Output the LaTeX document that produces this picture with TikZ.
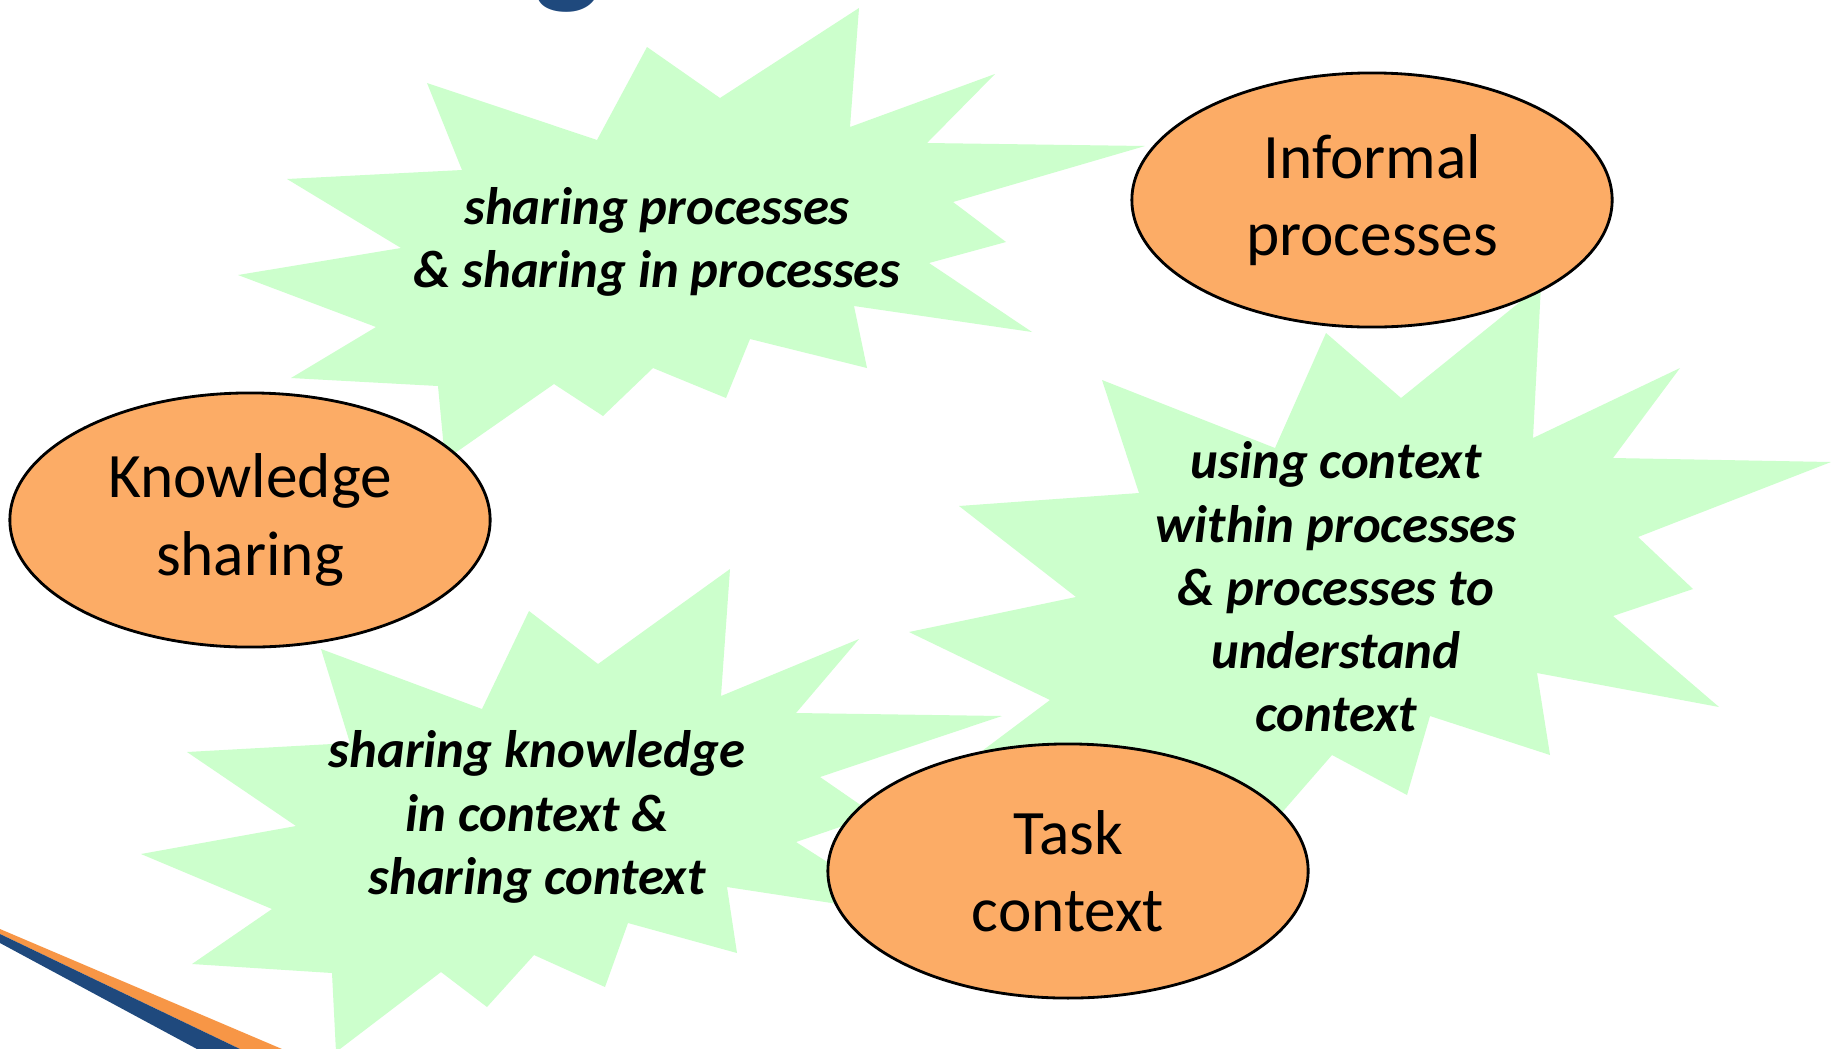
\documentclass[tikz,border=0pt]{standalone}
\usepackage{fontspec}
\setmainfont{Carlito}
\usetikzlibrary{shapes.geometric}
\definecolor{burstgreen}{RGB}{204,255,204}
\definecolor{bubbleorange}{RGB}{252,172,102}
\definecolor{stripeorange}{RGB}{247,150,70}
\definecolor{titleblue}{RGB}{31,73,125}
\tikzset{
  burst/.style={fill=burstgreen},
  bursttext/.style={align=center, font=\fontsize{15}{18}\selectfont\bfseries\itshape},
  bubble/.style={ellipse, draw=black, line width=0.8pt, fill=bubbleorange,
    minimum width=4.8cm, minimum height=2.54cm, inner sep=0pt, align=center,
    font=\fontsize{18}{22}\selectfont}
}
\begin{document}
\begin{tikzpicture}[x=0.01cm, y=-0.01cm]
    \clip (0,0) rectangle (1831,1048);
    \fill[white] (0,0) rectangle (1831,1048);
    %% cut title letter and corner stripes
    \node[anchor=base, text=titleblue, font=\fontsize{40}{48}\selectfont\bfseries] (title) at (568,-12) {g};
    \fill[stripeorange] (0,929) -- (282,1049) -- (240,1049) -- (0,934) -- cycle;
    \fill[titleblue] (0,934) -- (240,1049) -- (197,1049) -- (0,943) -- cycle;
    %% next three \fill are the bursts
    \fill[burst] (859,8) -- (850,127) -- (995,74) -- (927,143) -- (1145,146) -- (953,202)
        -- (1006,242) -- (929,263) -- (1032,332) -- (854,306) -- (867,368) -- (750,339)
        -- (726,398) -- (653,368) -- (603,416) -- (554,384) -- (445,460) -- (438,386)
        -- (291,378) -- (376,327) -- (238,275) -- (401,248) -- (287,179) -- (462,170)
        -- (427,83) -- (597,140) -- (647,47) -- (720,98) -- cycle;
    \fill[burst] (1541,285) -- (1533,438) -- (1680,368) -- (1613,458) -- (1831,462)
        -- (1638,537) -- (1693,589) -- (1613,616) -- (1719,707) -- (1537,673) -- (1550,755)
        -- (1430,716) -- (1407,795) -- (1332,755) -- (1258,840) -- (1150,800) -- (958,769)
        -- (1050,700) -- (909,632) -- (1076,597) -- (959,506) -- (1139,493) -- (1102,380)
        -- (1275,448) -- (1326,333) -- (1401,398) -- cycle;
    \fill[burst] (730,569) -- (721,696) -- (859,639) -- (796,713) -- (1002,716) -- (820,777)
        -- (875,815) -- (796,842) -- (910,915) -- (727,887) -- (737,953) -- (628,923)
        -- (605,987) -- (534,955) -- (487,1007) -- (441,972) -- (336,1052) -- (332,973)
        -- (192,964) -- (272,909) -- (141,854) -- (296,826) -- (187,752) -- (350,743)
        -- (321,649) -- (482,709) -- (529,611) -- (598,664) -- cycle;
    \node[bursttext] (sharingproc) at (657,242) {sharing processes\\\& sharing in processes};
    \node[bursttext] (usingctx) at (1336,587) {using context\\within processes\\\& processes to\\understand\\context};
    \node[bursttext] (sharingknow) at (537,817) {sharing knowledge\\in context \&\\sharing context};
    %% the three bubbles
    \node[bubble] (informal) at (1372,200) {Informal\\processes};
    \node[bubble] (knowledge) at (250,520) {Knowledge\\sharing};
    \node[bubble] (task) at (1068,871) {Task\\context};
\end{tikzpicture}
\end{document}
